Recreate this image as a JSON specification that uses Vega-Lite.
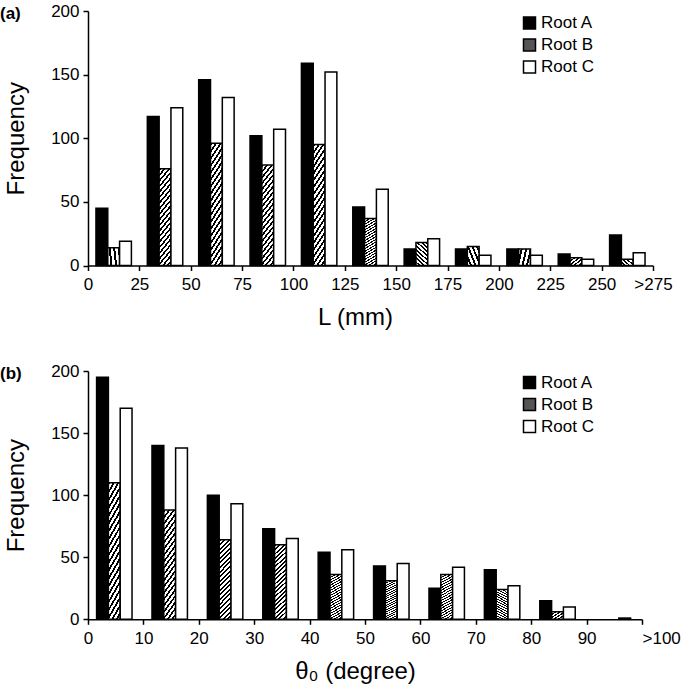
{
  "$schema": "https://vega.github.io/schema/vega-lite/v6.json",
  "padding": {"left": 0, "top": 2, "right": 5, "bottom": 5},
  "datasets": {
    "a": [
      {"lo": 0, "series": "Root A", "n": 45}, {"lo": 0, "series": "Root B", "n": 14}, {"lo": 0, "series": "Root C", "n": 19},
      {"lo": 25, "series": "Root A", "n": 117}, {"lo": 25, "series": "Root B", "n": 76}, {"lo": 25, "series": "Root C", "n": 124},
      {"lo": 50, "series": "Root A", "n": 146}, {"lo": 50, "series": "Root B", "n": 96}, {"lo": 50, "series": "Root C", "n": 132},
      {"lo": 75, "series": "Root A", "n": 102}, {"lo": 75, "series": "Root B", "n": 79}, {"lo": 75, "series": "Root C", "n": 107},
      {"lo": 100, "series": "Root A", "n": 159}, {"lo": 100, "series": "Root B", "n": 95}, {"lo": 100, "series": "Root C", "n": 152},
      {"lo": 125, "series": "Root A", "n": 46}, {"lo": 125, "series": "Root B", "n": 37}, {"lo": 125, "series": "Root C", "n": 60},
      {"lo": 150, "series": "Root A", "n": 13}, {"lo": 150, "series": "Root B", "n": 18}, {"lo": 150, "series": "Root C", "n": 21},
      {"lo": 175, "series": "Root A", "n": 13}, {"lo": 175, "series": "Root B", "n": 15}, {"lo": 175, "series": "Root C", "n": 8},
      {"lo": 200, "series": "Root A", "n": 13}, {"lo": 200, "series": "Root B", "n": 13}, {"lo": 200, "series": "Root C", "n": 8},
      {"lo": 225, "series": "Root A", "n": 9}, {"lo": 225, "series": "Root B", "n": 6}, {"lo": 225, "series": "Root C", "n": 5},
      {"lo": 250, "series": "Root A", "n": 24}, {"lo": 250, "series": "Root B", "n": 5}, {"lo": 250, "series": "Root C", "n": 10}
    ],
    "b": [
      {"lo": 0, "series": "Root A", "n": 195}, {"lo": 0, "series": "Root B", "n": 110}, {"lo": 0, "series": "Root C", "n": 170},
      {"lo": 10, "series": "Root A", "n": 140}, {"lo": 10, "series": "Root B", "n": 88}, {"lo": 10, "series": "Root C", "n": 138},
      {"lo": 20, "series": "Root A", "n": 100}, {"lo": 20, "series": "Root B", "n": 64}, {"lo": 20, "series": "Root C", "n": 93},
      {"lo": 30, "series": "Root A", "n": 73}, {"lo": 30, "series": "Root B", "n": 60}, {"lo": 30, "series": "Root C", "n": 65},
      {"lo": 40, "series": "Root A", "n": 54}, {"lo": 40, "series": "Root B", "n": 36}, {"lo": 40, "series": "Root C", "n": 56},
      {"lo": 50, "series": "Root A", "n": 43}, {"lo": 50, "series": "Root B", "n": 31}, {"lo": 50, "series": "Root C", "n": 45},
      {"lo": 60, "series": "Root A", "n": 25}, {"lo": 60, "series": "Root B", "n": 36}, {"lo": 60, "series": "Root C", "n": 42},
      {"lo": 70, "series": "Root A", "n": 40}, {"lo": 70, "series": "Root B", "n": 24}, {"lo": 70, "series": "Root C", "n": 27},
      {"lo": 80, "series": "Root A", "n": 15}, {"lo": 80, "series": "Root B", "n": 6}, {"lo": 80, "series": "Root C", "n": 10},
      {"lo": 90, "series": "Root C", "n": 1}
    ]
  },
  "config": {
    "view": {"stroke": null},
    "font": "Liberation Sans",
    "axis": {
      "domainColor": "#000", "domainWidth": 1.5, "tickColor": "#000", "tickWidth": 1.5, "tickSize": 5,
      "labelColor": "#000", "labelFontSize": 17, "labelFont": "Liberation Sans", "labelPadding": 4,
      "labelFlush": false, "labelOverlap": false,
      "titleFont": "Liberation Sans", "titleFontSize": 24, "titleFontWeight": "normal", "titleColor": "#000",
      "grid": false
    },
    "axisY": {"titlePadding": 22},
    "axisX": {"titlePadding": 13, "labelAngle": 0, "labelPadding": 6},
    "legend": {
      "labelFontSize": 17, "labelFont": "Liberation Sans", "labelColor": "#000",
      "symbolSize": 144, "symbolStrokeColor": "#000", "symbolStrokeWidth": 1.5, "symbolType": "square",
      "rowPadding": 3, "labelOffset": 3, "padding": 0
    },
    "title": {"fontSize": 17, "fontWeight": "bold", "font": "Liberation Sans", "color": "#000", "anchor": "start", "frame": "group", "offset": 0}
  },
  "resolve": {"scale": {"x": "independent", "y": "independent", "fill": "independent", "stroke": "independent"}, "legend": {"fill": "independent", "stroke": "independent"}},
  "spacing": 32,
  "vconcat": [
    {
      "width": 565, "height": 254.5,
      "title": {"text": "(a)", "dx": -88, "dy": 25},
      "data": {"name": "a"},
      "resolve": {"scale": {"x": "independent"}},
      "layer": [
        {
          "mark": {"type": "bar", "strokeWidth": 1.5},
          "encoding": {
            "x": {"field": "lo", "type": "ordinal", "axis": null, "scale": {"paddingInner": 0.31, "paddingOuter": 0.155}},
            "xOffset": {"field": "series", "type": "nominal", "sort": ["Root A", "Root B", "Root C"]},
            "y": {"field": "n", "type": "quantitative", "scale": {"domain": [0, 200]}, "axis": {"values": [0, 50, 100, 150, 200], "title": "Frequency"}},
            "stroke": {"field": "series", "type": "nominal",
              "scale": {"domain": ["Root A", "Root B", "Root C"], "range": ["#000", "#000", "#000"]},
              "legend": {"orient": "none", "legendX": 433, "legendY": 3.5, "title": null}},
            "fill": {
              "field": "series", "type": "nominal",
              "condition": {"test": "datum.series === 'Root B'", "value":
                {"gradient": "linear", "x1": 0, "y1": 0, "x2": 0.169, "y2": 1.125, "stops": [
                  {"offset": 0, "color": "#000"}, {"offset": 0.022, "color": "#000"}, {"offset": 0.022, "color": "#fff"}, {"offset": 0.05, "color": "#fff"},
                  {"offset": 0.05, "color": "#000"}, {"offset": 0.072, "color": "#000"}, {"offset": 0.072, "color": "#fff"}, {"offset": 0.10, "color": "#fff"},
                  {"offset": 0.10, "color": "#000"}, {"offset": 0.122, "color": "#000"}, {"offset": 0.122, "color": "#fff"}, {"offset": 0.15, "color": "#fff"},
                  {"offset": 0.15, "color": "#000"}, {"offset": 0.172, "color": "#000"}, {"offset": 0.172, "color": "#fff"}, {"offset": 0.20, "color": "#fff"},
                  {"offset": 0.20, "color": "#000"}, {"offset": 0.222, "color": "#000"}, {"offset": 0.222, "color": "#fff"}, {"offset": 0.25, "color": "#fff"},
                  {"offset": 0.25, "color": "#000"}, {"offset": 0.272, "color": "#000"}, {"offset": 0.272, "color": "#fff"}, {"offset": 0.30, "color": "#fff"},
                  {"offset": 0.30, "color": "#000"}, {"offset": 0.322, "color": "#000"}, {"offset": 0.322, "color": "#fff"}, {"offset": 0.35, "color": "#fff"},
                  {"offset": 0.35, "color": "#000"}, {"offset": 0.372, "color": "#000"}, {"offset": 0.372, "color": "#fff"}, {"offset": 0.40, "color": "#fff"},
                  {"offset": 0.40, "color": "#000"}, {"offset": 0.422, "color": "#000"}, {"offset": 0.422, "color": "#fff"}, {"offset": 0.45, "color": "#fff"},
                  {"offset": 0.45, "color": "#000"}, {"offset": 0.472, "color": "#000"}, {"offset": 0.472, "color": "#fff"}, {"offset": 0.50, "color": "#fff"},
                  {"offset": 0.50, "color": "#000"}, {"offset": 0.522, "color": "#000"}, {"offset": 0.522, "color": "#fff"}, {"offset": 0.55, "color": "#fff"},
                  {"offset": 0.55, "color": "#000"}, {"offset": 0.572, "color": "#000"}, {"offset": 0.572, "color": "#fff"}, {"offset": 0.60, "color": "#fff"},
                  {"offset": 0.60, "color": "#000"}, {"offset": 0.622, "color": "#000"}, {"offset": 0.622, "color": "#fff"}, {"offset": 0.65, "color": "#fff"},
                  {"offset": 0.65, "color": "#000"}, {"offset": 0.672, "color": "#000"}, {"offset": 0.672, "color": "#fff"}, {"offset": 0.70, "color": "#fff"},
                  {"offset": 0.70, "color": "#000"}, {"offset": 0.722, "color": "#000"}, {"offset": 0.722, "color": "#fff"}, {"offset": 0.75, "color": "#fff"},
                  {"offset": 0.75, "color": "#000"}, {"offset": 0.772, "color": "#000"}, {"offset": 0.772, "color": "#fff"}, {"offset": 0.80, "color": "#fff"},
                  {"offset": 0.80, "color": "#000"}, {"offset": 0.822, "color": "#000"}, {"offset": 0.822, "color": "#fff"}, {"offset": 0.85, "color": "#fff"},
                  {"offset": 0.85, "color": "#000"}, {"offset": 0.872, "color": "#000"}, {"offset": 0.872, "color": "#fff"}, {"offset": 0.90, "color": "#fff"},
                  {"offset": 0.90, "color": "#000"}, {"offset": 0.922, "color": "#000"}, {"offset": 0.922, "color": "#fff"}, {"offset": 0.95, "color": "#fff"},
                  {"offset": 0.95, "color": "#000"}, {"offset": 0.972, "color": "#000"}, {"offset": 0.972, "color": "#fff"}, {"offset": 1.0, "color": "#fff"}
                ]}},
              "scale": {"domain": ["Root A", "Root B", "Root C"], "range": ["#000", "#555", "#fff"]},
              "legend": {"orient": "none", "legendX": 433, "legendY": 3.5, "title": null}
            }
          }
        },
        {
          "mark": {"type": "rule", "opacity": 0},
          "encoding": {
            "x": {"field": "lo", "type": "quantitative", "scale": {"domain": [0, 275], "nice": false, "zero": false},
              "axis": {"orient": "bottom", "values": [0, 25, 50, 75, 100, 125, 150, 175, 200, 225, 250, 275],
                "labelExpr": "datum.value == 275 ? '>275' : datum.label", "title": "L (mm)", "titleX": 267}}
          }
        }
      ]
    },
    {
      "width": 554, "height": 248.3,
      "title": {"text": "(b)", "dx": -88, "dy": 25},
      "data": {"name": "b"},
      "resolve": {"scale": {"x": "independent"}},
      "layer": [
        {
          "mark": {"type": "bar", "strokeWidth": 1.5},
          "encoding": {
            "x": {"field": "lo", "type": "ordinal", "axis": null, "scale": {"paddingInner": 0.31, "paddingOuter": 0.155}},
            "xOffset": {"field": "series", "type": "nominal", "sort": ["Root A", "Root B", "Root C"], "scale": {"domain": ["Root A", "Root B", "Root C"]}},
            "y": {"field": "n", "type": "quantitative", "scale": {"domain": [0, 200]}, "axis": {"values": [0, 50, 100, 150, 200], "title": "Frequency"}},
            "stroke": {"field": "series", "type": "nominal",
              "scale": {"domain": ["Root A", "Root B", "Root C"], "range": ["#000", "#000", "#000"]},
              "legend": {"orient": "none", "legendX": 433, "legendY": 3, "title": null}},
            "fill": {
              "field": "series", "type": "nominal",
              "condition": {"test": "datum.series === 'Root B'", "value":
                {"gradient": "linear", "x1": 0, "y1": 0, "x2": 0.169, "y2": 1.125, "stops": [
                  {"offset": 0, "color": "#000"}, {"offset": 0.022, "color": "#000"}, {"offset": 0.022, "color": "#fff"}, {"offset": 0.05, "color": "#fff"},
                  {"offset": 0.05, "color": "#000"}, {"offset": 0.072, "color": "#000"}, {"offset": 0.072, "color": "#fff"}, {"offset": 0.10, "color": "#fff"},
                  {"offset": 0.10, "color": "#000"}, {"offset": 0.122, "color": "#000"}, {"offset": 0.122, "color": "#fff"}, {"offset": 0.15, "color": "#fff"},
                  {"offset": 0.15, "color": "#000"}, {"offset": 0.172, "color": "#000"}, {"offset": 0.172, "color": "#fff"}, {"offset": 0.20, "color": "#fff"},
                  {"offset": 0.20, "color": "#000"}, {"offset": 0.222, "color": "#000"}, {"offset": 0.222, "color": "#fff"}, {"offset": 0.25, "color": "#fff"},
                  {"offset": 0.25, "color": "#000"}, {"offset": 0.272, "color": "#000"}, {"offset": 0.272, "color": "#fff"}, {"offset": 0.30, "color": "#fff"},
                  {"offset": 0.30, "color": "#000"}, {"offset": 0.322, "color": "#000"}, {"offset": 0.322, "color": "#fff"}, {"offset": 0.35, "color": "#fff"},
                  {"offset": 0.35, "color": "#000"}, {"offset": 0.372, "color": "#000"}, {"offset": 0.372, "color": "#fff"}, {"offset": 0.40, "color": "#fff"},
                  {"offset": 0.40, "color": "#000"}, {"offset": 0.422, "color": "#000"}, {"offset": 0.422, "color": "#fff"}, {"offset": 0.45, "color": "#fff"},
                  {"offset": 0.45, "color": "#000"}, {"offset": 0.472, "color": "#000"}, {"offset": 0.472, "color": "#fff"}, {"offset": 0.50, "color": "#fff"},
                  {"offset": 0.50, "color": "#000"}, {"offset": 0.522, "color": "#000"}, {"offset": 0.522, "color": "#fff"}, {"offset": 0.55, "color": "#fff"},
                  {"offset": 0.55, "color": "#000"}, {"offset": 0.572, "color": "#000"}, {"offset": 0.572, "color": "#fff"}, {"offset": 0.60, "color": "#fff"},
                  {"offset": 0.60, "color": "#000"}, {"offset": 0.622, "color": "#000"}, {"offset": 0.622, "color": "#fff"}, {"offset": 0.65, "color": "#fff"},
                  {"offset": 0.65, "color": "#000"}, {"offset": 0.672, "color": "#000"}, {"offset": 0.672, "color": "#fff"}, {"offset": 0.70, "color": "#fff"},
                  {"offset": 0.70, "color": "#000"}, {"offset": 0.722, "color": "#000"}, {"offset": 0.722, "color": "#fff"}, {"offset": 0.75, "color": "#fff"},
                  {"offset": 0.75, "color": "#000"}, {"offset": 0.772, "color": "#000"}, {"offset": 0.772, "color": "#fff"}, {"offset": 0.80, "color": "#fff"},
                  {"offset": 0.80, "color": "#000"}, {"offset": 0.822, "color": "#000"}, {"offset": 0.822, "color": "#fff"}, {"offset": 0.85, "color": "#fff"},
                  {"offset": 0.85, "color": "#000"}, {"offset": 0.872, "color": "#000"}, {"offset": 0.872, "color": "#fff"}, {"offset": 0.90, "color": "#fff"},
                  {"offset": 0.90, "color": "#000"}, {"offset": 0.922, "color": "#000"}, {"offset": 0.922, "color": "#fff"}, {"offset": 0.95, "color": "#fff"},
                  {"offset": 0.95, "color": "#000"}, {"offset": 0.972, "color": "#000"}, {"offset": 0.972, "color": "#fff"}, {"offset": 1.0, "color": "#fff"}
                ]}},
              "scale": {"domain": ["Root A", "Root B", "Root C"], "range": ["#000", "#555", "#fff"]},
              "legend": {"orient": "none", "legendX": 433, "legendY": 3, "title": null}
            }
          }
        },
        {
          "mark": {"type": "rule", "opacity": 0},
          "encoding": {
            "x": {"field": "lo", "type": "quantitative", "scale": {"domain": [0, 100], "nice": false, "zero": false},
              "axis": {"orient": "bottom", "values": [0, 10, 20, 30, 40, 50, 60, 70, 80, 90, 100],
                "labelExpr": "datum.value == 100 ? '>100' : datum.label",
                "labelAlign": {"condition": {"test": "datum.value == 100", "value": "left"}, "value": "center"},
                "title": "θ₀ (degree)", "titleX": 267}}
          }
        }
      ]
    }
  ]
}
